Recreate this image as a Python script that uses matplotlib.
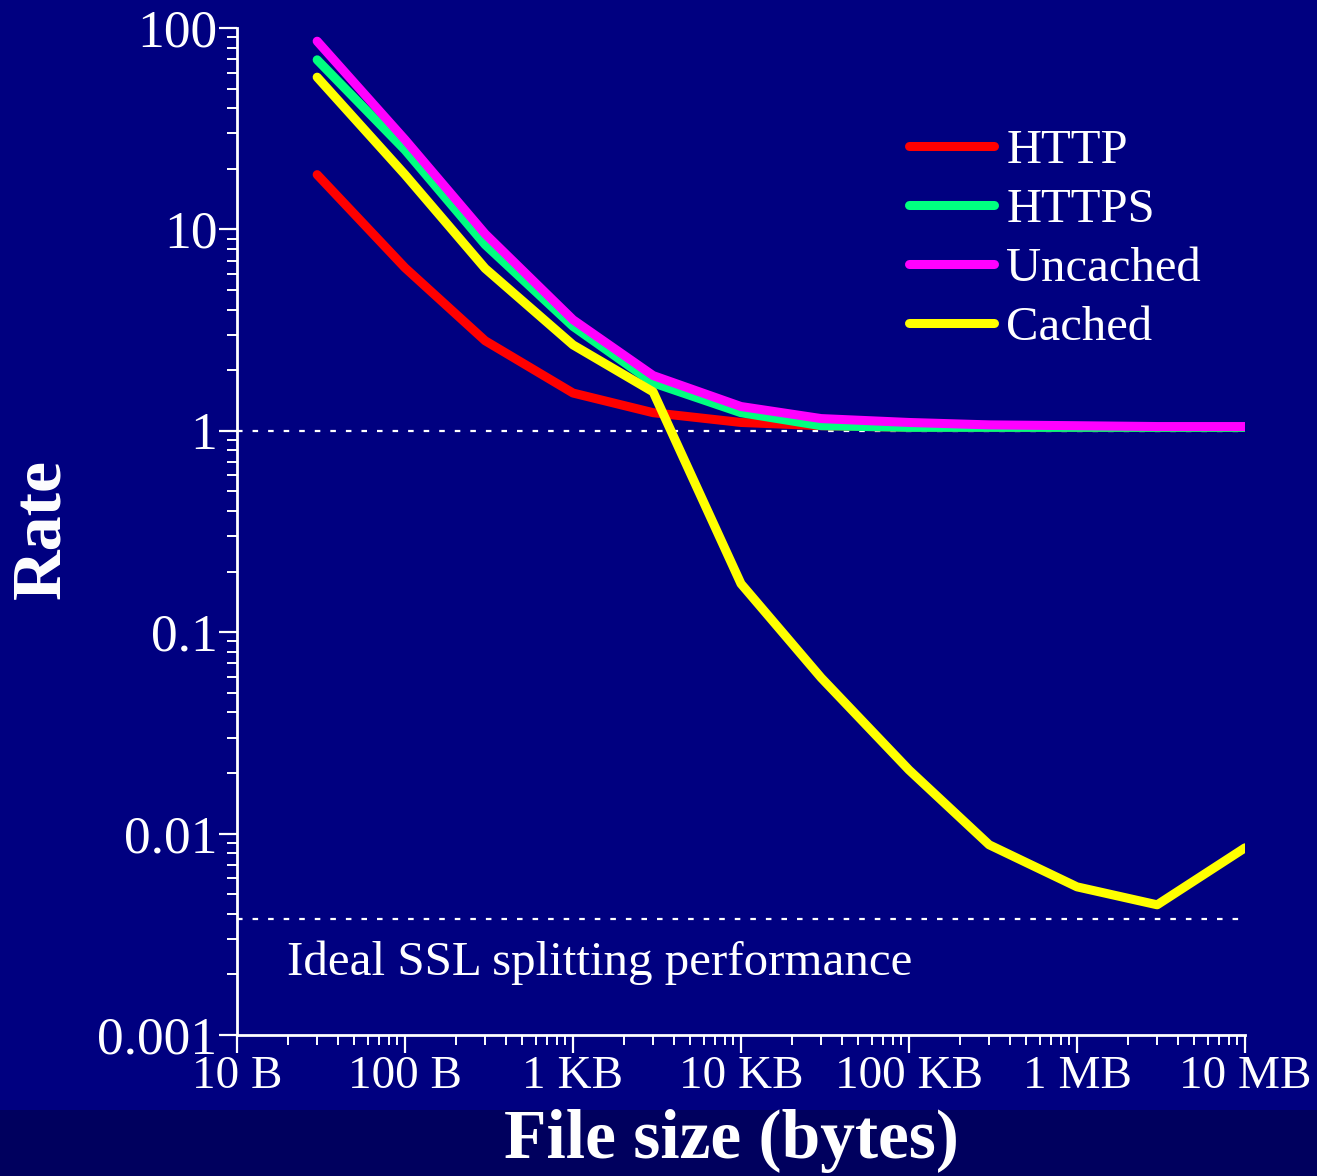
import matplotlib
matplotlib.use('Agg')
import matplotlib.pyplot as plt
from matplotlib.patches import Rectangle

plt.rcParams['font.family'] = ['Liberation Serif', 'DejaVu Serif']

# file sizes in bytes
sizes = [30, 100, 300, 1e3, 3e3, 1e4, 3e4, 1e5, 3e5, 1e6, 3e6, 1e7]

http = [18.7, 6.45, 2.8, 1.54, 1.23, 1.1, 1.06, 1.04, 1.04, 1.04, 1.04, 1.04]
https = [69.5, 24.8, 8.4, 3.3, 1.73, 1.23, 1.06, 1.04, 1.04, 1.04, 1.04, 1.04]
uncached = [86, 27.9, 9.5, 3.56, 1.88, 1.32, 1.15, 1.1, 1.07, 1.06, 1.05, 1.05]
cached = [57, 18.7, 6.4, 2.67, 1.56, 0.174, 0.0594, 0.0207, 0.0088, 0.00544, 0.00443, 0.0085]

series_names = ['HTTP', 'HTTPS', 'Uncached', 'Cached']
series_colors = ['#ff0000', '#00ff80', '#ff00ff', '#ffff00']

ideal_rate = 0.00377

xticks = [10, 100, 1e3, 1e4, 1e5, 1e6, 1e7]
xticklabels = ['10 B', '100 B', '1 KB', '10 KB', '100 KB', '1 MB', '10 MB']
yticks = [0.001, 0.01, 0.1, 1, 10, 100]
yticklabels = ['0.001', '0.01', '0.1', '1', '10', '100']

bg = '#000080'
fig = plt.figure(figsize=(13.17, 11.76), dpi=100, facecolor=bg)
# darker strip at the bottom
fig.patches.append(Rectangle((0, 0), 1, 66 / 1176, transform=fig.transFigure,
                             facecolor='#00005e', edgecolor='none', zorder=-1))

ax = fig.add_axes([237 / 1317, 1 - 1035 / 1176, 1008 / 1317, 1007 / 1176])
ax.set_facecolor(bg)
ax.set_xscale('log')
ax.set_yscale('log')
ax.set_xlim(10, 1e7)
ax.set_ylim(0.001, 100)

# dotted reference lines
ax.axhline(1, color='white', lw=1.6, ls=(0, (2.5, 4.5)), zorder=1)
ax.axhline(ideal_rate, color='white', lw=1.6, ls=(0, (2.5, 4.5)), zorder=1)

for vals, name, c in zip([http, https, uncached, cached], series_names, series_colors):
    ax.plot(sizes, vals, color=c, lw=6.5, label=name, solid_capstyle='round',
            solid_joinstyle='round', zorder=3)

ax.text((287 - 237) / 1008, (1035 - 975) / 1007,
        'Ideal SSL splitting performance', transform=ax.transAxes,
        color='white', fontsize=35.3, va='baseline', ha='left')

for s in ['top', 'right']:
    ax.spines[s].set_visible(False)
for s in ['left', 'bottom']:
    ax.spines[s].set_color('white')
    ax.spines[s].set_linewidth(2)

ax.set_xticks(xticks)
ax.set_xticklabels(xticklabels)
ax.set_yticks(yticks)
ax.set_yticklabels(yticklabels)
ax.tick_params(which='major', colors='white', length=13, width=1.6)
ax.tick_params(which='minor', colors='white', length=7, width=1.4)
ax.tick_params(axis='y', which='major', pad=1, labelsize=38.5)
ax.tick_params(axis='x', which='major', pad=2, labelsize=34)

leg = ax.legend(loc='upper right', bbox_to_anchor=(1.0, 0.943), frameon=False,
                fontsize=35, handlelength=1.75, handletextpad=0.25, labelspacing=0.31,
                labelcolor='white')

fig.text(731 / 1317, 1 - 1141 / 1176, 'File size (bytes)', color='white',
         fontsize=50, fontweight='bold', ha='center', va='center')
fig.text(42 / 1317, 1 - 529 / 1176, 'Rate', color='white', rotation=90,
         fontsize=50.5, fontweight='bold', ha='center', va='center')

fig.savefig('out.png', dpi=100, facecolor=fig.get_facecolor())
